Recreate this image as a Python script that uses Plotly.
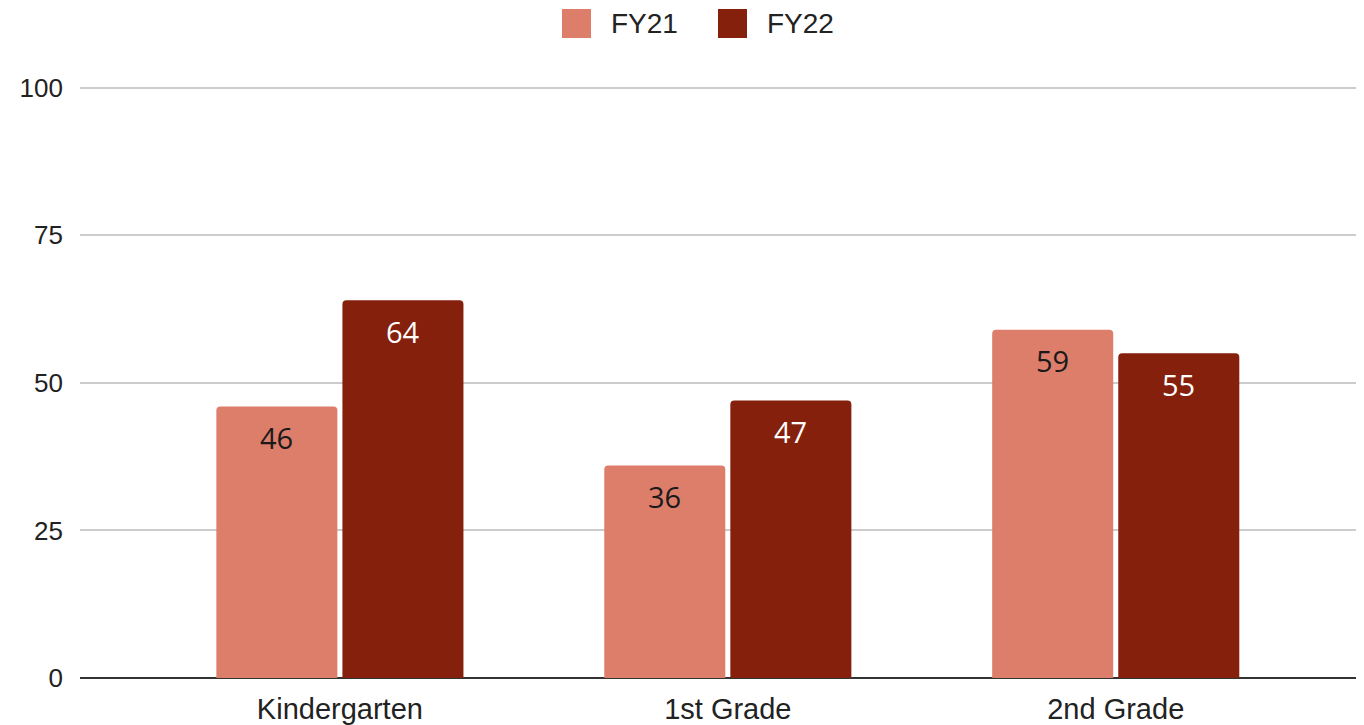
import plotly.graph_objects as go

categories = ["Kindergarten", "1st Grade", "2nd Grade"]
fy21 = [46, 36, 59]
fy22 = [64, 47, 55]
series_names = ["FY21", "FY22"]
y_ticks = [0, 25, 50, 75, 100]

colors = ["#dd7e6b", "#85200c"]
label_colors = ["#1a1a1a", "#ffffff"]

# figure geometry (page body adds an 8px offset)
W, H = 1356, 717
ML, MR, MT, MB = 72, 0, 78, 47
PW, PH = W - ML - MR, H - MT - MB


def px_x(px):
    return (px - ML) / PW


def px_y(py):
    return 1 - (py - MT) / PH


fig = go.Figure()
for name, vals, col in zip(series_names, [fy21, fy22], colors):
    fig.add_trace(go.Bar(
        name=name, x=categories, y=vals, showlegend=False,
        marker=dict(color=col, line=dict(width=0), cornerradius=4),
        hoverinfo="x+y",
    ))

shifts = [-63, 63]
for vals, sh, tc in zip([fy21, fy22], shifts, label_colors):
    for c, v in zip(categories, vals):
        fig.add_annotation(
            x=c, y=v, xref="x", yref="y", text=str(v), showarrow=False,
            xshift=sh, yshift=-31,
            font=dict(family="Open Sans, Liberation Sans, Arial", size=29, color=tc),
        )

# custom legend (large square swatches)
legend_x = [554, 710]
legend_cy = 15.5
for name, col, lx in zip(series_names, colors, legend_x):
    fig.add_shape(
        type="rect", xref="paper", yref="paper",
        xsizemode="pixel", ysizemode="pixel",
        xanchor=px_x(lx), yanchor=px_y(legend_cy),
        x0=0, x1=29, y0=-14.5, y1=14.5,
        fillcolor=col, line=dict(width=0), layer="above",
    )
    fig.add_annotation(
        x=px_x(lx + 47), y=px_y(legend_cy), xref="paper", yref="paper",
        xanchor="left", yanchor="middle", text=name, showarrow=False,
        font=dict(family="Liberation Sans, Arial", size=28, color="#222222"),
    )

fig.update_layout(
    width=W, height=H,
    margin=dict(l=ML, r=MR, t=MT, b=MB, autoexpand=False),
    paper_bgcolor="white", plot_bgcolor="white",
    barmode="group", bargap=0.35, bargroupgap=0.04,
    font=dict(family="Liberation Sans, Arial", size=27, color="#222222"),
    showlegend=False,
    xaxis=dict(
        range=[-0.67, 2.64], showgrid=False, showline=False, ticks="",
        tickfont=dict(size=29, color="#222222"), automargin=False,
        ticklabelstandoff=11,
    ),
    yaxis=dict(
        range=[0, 100.3], tickvals=y_ticks, ticktext=[str(t) for t in y_ticks],
        showgrid=True, gridcolor="#cccccc", gridwidth=2,
        zeroline=True, zerolinecolor="#333333", zerolinewidth=2,
        showline=False, ticks="", ticklabelstandoff=16, automargin=False,
        tickfont=dict(size=26, color="#222222"),
    ),
)

fig.write_html("out.html")
